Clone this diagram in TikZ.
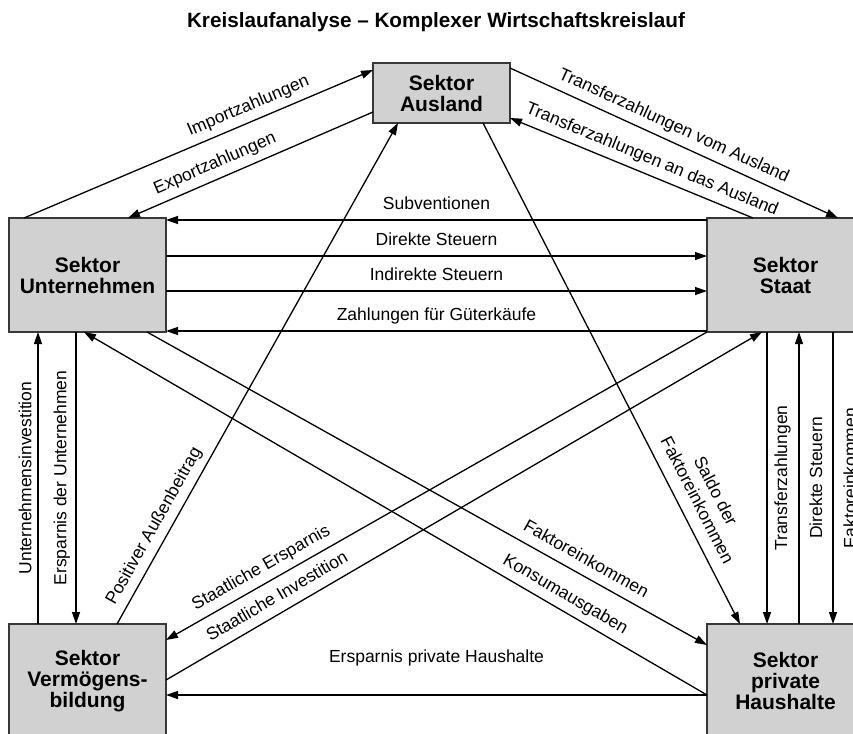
\documentclass[tikz,border=0pt]{standalone}
\usepackage{fontspec}
\setmainfont{Liberation Sans}
\usetikzlibrary{arrows.meta, calc}

\tikzset{
  sektor/.style={draw=black!78, fill=black!18, line width=1.6pt, outer sep=0pt,
    align=center, font=\fontsize{21}{21}\selectfont\bfseries},
  gross/.style={sektor, minimum width=157pt, minimum height=114pt},
  lbl/.style={font=\fontsize{17.5}{20.6}\selectfont, inner sep=3pt,
    text height=12.4pt, text depth=0pt},
}

\begin{document}
\begin{tikzpicture}[x=1pt, y=-1pt, line width=1.3pt, >={Triangle[length=12pt,width=8pt]}]

\useasboundingbox (0,0) rectangle (853,733);
\clip (0,0) rectangle (853,733);
\fill[white] (0,0) rectangle (853,733);

\node[font=\fontsize{20.7}{24}\selectfont\bfseries, anchor=base] (titel) at (436,28)
  {Kreislaufanalyse – Komplexer Wirtschaftskreislauf};

% die fuenf Sektoren
\node[sektor, minimum width=137pt, minimum height=60pt] (aus) at (441.5,93) {Sektor\\Ausland};
\node[gross] (unt) at (87.5,275) {Sektor\\Unternehmen};
\node[gross] (sta) at (785.5,275) {Sektor\\Staat};
\node[gross] (ver) at (87.5,681) {Sektor\\Vermögens-\\bildung};
\node[gross] (hh) at (785.5,681) {Sektor\\private\\Haushalte};

% Ausland
\draw[->] ($(unt.north west)+(15,0)$) -- node[lbl, sloped, above=7pt, pos=0.66] {Importzahlungen} ($(aus.north west)+(0,7)$);
\draw[->] ($(aus.south west)+(0,-11)$) -- node[lbl, sloped, above=7pt, pos=0.62] {Exportzahlungen} ($(unt.north west)+(119,0)$);
\draw[->] ($(aus.north east)+(0,5)$) -- node[lbl, sloped, above=7pt, pos=0.48] {Transferzahlungen vom Ausland} ($(sta.north west)+(131,0)$);
\draw[->] ($(sta.north west)+(46,0)$) -- node[lbl, sloped, above=7pt, pos=0.44] {Transferzahlungen an das Ausland} ($(aus.south east)+(0,-5)$);
\draw[->] ($(ver.north west)+(108,0)$) -- node[lbl, sloped, above=7pt, pos=0.18] {Positiver Außenbeitrag} ($(aus.south west)+(25,0)$);
\draw[->] ($(aus.south west)+(110,0)$) -- node[lbl, sloped, above=9pt, pos=0.77, align=center] {Saldo der\\Faktoreinkommen} ($(hh.north west)+(33,0)$);

% Unternehmen - Staat
\draw[->] ($(sta.north west)+(0,2)$) -- node[lbl, above=7pt] {Subventionen} ($(unt.north east)+(0,2)$);
\draw[->] ($(unt.east)+(0,-19)$) -- node[lbl, above=7pt] {Direkte Steuern} ($(sta.west)+(0,-19)$);
\draw[->] ($(unt.east)+(0,16)$) -- node[lbl, above=7pt] {Indirekte Steuern} ($(sta.west)+(0,16)$);
\draw[->] ($(sta.south west)+(0,-1)$) -- node[lbl, above=7pt] {Zahlungen für Güterkäufe} ($(unt.south east)+(0,-1)$);

% Kreuz in der Mitte
\draw[->] (sta.south west) -- node[lbl, sloped, above=7pt, pos=0.81] {Staatliche Ersparnis} ($(ver.north east)+(0,16)$);
\draw[->] ($(ver.north east)+(0,56)$) -- node[lbl, sloped, above=7pt, pos=0.2] {Staatliche Investition} ($(sta.south west)+(55,0)$);
\draw[->] ($(unt.south west)+(138,0)$) -- node[lbl, sloped, above=7pt, pos=0.77] {Faktoreinkommen} ($(hh.north west)+(0,21)$);
\draw[->] ($(hh.north west)+(0,71)$) -- node[lbl, sloped, above=7pt, pos=0.24] {Konsumausgaben} ($(unt.south west)+(75,0)$);
\draw[->] ($(hh.north west)+(0,71)$) -- node[lbl, above=29pt] {Ersparnis private Haushalte} ($(ver.north east)+(0,71)$);

% senkrecht links
\draw[->] ($(ver.north west)+(29,0)$) -- node[lbl, sloped, above=3pt] {Unternehmensinvestition} ($(unt.south west)+(29,0)$);
\draw[<-] ($(ver.north west)+(67,0)$) -- node[lbl, sloped, above=6pt] {Ersparnis der Unternehmen} ($(unt.south west)+(67,0)$);

% senkrecht rechts
\draw[<-] ($(hh.north west)+(60,0)$) -- node[lbl, sloped, below=4pt] {Transferzahlungen} ($(sta.south west)+(60,0)$);
\draw[->] ($(hh.north west)+(92,0)$) -- node[lbl, sloped, below=7pt] {Direkte Steuern} ($(sta.south west)+(92,0)$);
\draw[<-] ($(hh.north west)+(126,0)$) -- node[lbl, sloped, below=7pt] {Faktoreinkommen} ($(sta.south west)+(126,0)$);

\end{tikzpicture}
\end{document}
